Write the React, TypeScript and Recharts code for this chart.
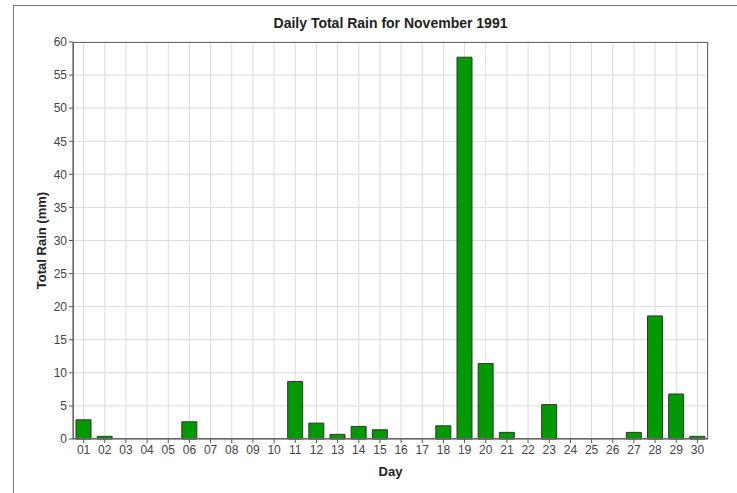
import React from "react";
import { BarChart, Bar, XAxis, YAxis, CartesianGrid } from "recharts";

const days = ["01","02","03","04","05","06","07","08","09","10","11","12","13","14","15","16","17","18","19","20","21","22","23","24","25","26","27","28","29","30"];
const rain = [2.9,0.4,0,0,0,2.6,0,0,0,0,8.7,2.4,0.7,1.9,1.4,0,0,2.0,57.7,11.4,1.0,0,5.2,0,0,0,1.0,18.6,6.8,0.4];
const yTicks = [0,5,10,15,20,25,30,35,40,45,50,55,60];

const data = days.map((d, i) => ({ day: d, rain: rain[i] }));

const FONT = "'Liberation Sans', Arial, sans-serif";

export default function App() {
  return (
    <div style={{ position: "fixed", left: 0, top: 0, width: 737, height: 493, background: "#fff", fontFamily: FONT }}>
      <div style={{ position: "absolute", left: 13, top: 5, width: 724, height: 488, borderTop: "1px solid #777", borderLeft: "1px solid #777", boxSizing: "border-box" }} />
      <div style={{ position: "absolute", left: 73, width: 635, top: 15, textAlign: "center", fontSize: 14, fontWeight: "bold", color: "#222" }}>
        Daily Total Rain for November 1991
      </div>
      <div style={{ position: "absolute", left: 0, top: 0 }}>
        <BarChart width={737} height={493} data={data} margin={{ top: 42, right: 29, bottom: 0, left: 0 }}>
          <CartesianGrid stroke="#dcdcdc" strokeWidth={1} />
          <XAxis
            dataKey="day"
            height={54}
            interval={0}
            tickSize={4}
            tickMargin={2}
            stroke="#555"
            tick={{ fill: "#444", fontSize: 12, fontFamily: FONT }}
            label={{ value: "Day", position: "insideBottom", offset: 17, fill: "#222", fontSize: 13, fontWeight: "bold", fontFamily: FONT }}
          />
          <YAxis
            width={73}
            domain={[0, 60]}
            ticks={yTicks}
            interval={0}
            tickSize={4}
            tickMargin={2}
            stroke="#555"
            tick={{ fill: "#444", fontSize: 12, fontFamily: FONT }}
            label={{ value: "Total Rain (mm)", angle: -90, position: "insideLeft", offset: 41, fill: "#222", fontSize: 13, fontWeight: "bold", fontFamily: FONT, style: { textAnchor: "middle" } }}
          />
          <Bar dataKey="rain" fill="#009a00" stroke="#333" strokeWidth={1} barSize={15} isAnimationActive={false} />
        </BarChart>
      </div>
      <div style={{ position: "absolute", left: 73, top: 42, width: 635, height: 397, border: "1px solid #666", boxSizing: "border-box", pointerEvents: "none" }} />
    </div>
  );
}
